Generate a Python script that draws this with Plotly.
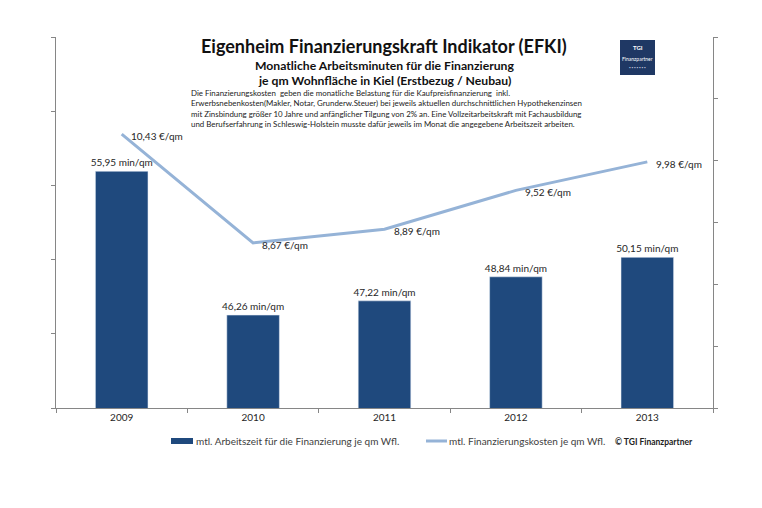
import plotly.graph_objects as go

# ---- data ----
years = ["2009", "2010", "2011", "2012", "2013"]
minutes = [55.95, 46.26, 47.22, 48.84, 50.15]          # bars (left axis)
costs = [10.43, 8.67, 8.89, 9.52, 9.98]                # line (right axis)
bar_name = "mtl. Arbeitszeit für die Finanzierung je qm Wfl."
line_name = "mtl. Finanzierungskosten je qm Wfl."
title = "Eigenheim Finanzierungskraft Indikator (EFKI)"
subtitle = ["Monatliche Arbeitsminuten für die Finanzierung",
            "je qm Wohnfläche in Kiel (Erstbezug / Neubau)"]
desc = [
    "Die Finanzierungskosten  geben die monatliche Belastung für die Kaufpreisfinanzierung  inkl.",
    "Erwerbsnebenkosten(Makler, Notar, Grunderw.Steuer) bei jeweils aktuellen durchschnittlichen Hypothekenzinsen",
    "mit Zinsbindung größer 10 Jahre und anfänglicher Tilgung von 2% an. Eine Vollzeitarbeitskraft mit Fachausbildung",
    "und Berufserfahrung in Schleswig-Holstein musste dafür jeweils im Monat die angegebene Arbeitszeit arbeiten.",
]
credit = "© TGI Finanzpartner"

# ---- geometry helpers ----
W, H = 762, 508
L, R, T, B = 56, 713, 37, 408
def px(x):
    return (x - L) / (R - L)
def py(y):
    return (B - y) / (B - T)

FONT = "Lato"
AX = "#868686"
BAR = "#1F497D"
LINE = "#95B3D7"
TXT = "#262626"

fig = go.Figure()
fig.add_trace(go.Bar(
    x=years, y=minutes, name=bar_name, marker_color=BAR, width=0.4,
    texttemplate="%{y:.2f} min/qm", textposition="outside", constraintext="none",
    textfont=dict(size=10, color=TXT, family=FONT), cliponaxis=False,
    showlegend=False,
))
fig.add_trace(go.Scatter(
    x=years, y=costs, name=line_name, yaxis="y2", mode="lines",
    line=dict(color=LINE, width=3), showlegend=False,
))

ann = []
for i, c in enumerate(costs):
    ann.append(dict(x=i, y=c, xref="x", yref="y2", showarrow=False,
                    text=f"{c:.2f}".replace(".", ",") + " €/qm",
                    xanchor="left", yanchor="middle", xshift=7, yshift=-2,
                    font=dict(size=10, color=TXT, family=FONT)))

ann.append(dict(x=px(384), y=py(46.5), xref="paper", yref="paper", showarrow=False,
                text=f"<b>{title}</b>", xanchor="center", yanchor="middle",
                font=dict(size=18, color="#111111", family=FONT)))
for i, s in enumerate(subtitle):
    ann.append(dict(x=px(384), y=py(65.5 + 15.5 * i), xref="paper", yref="paper", showarrow=False,
                    text=f"<b>{s}</b>", xanchor="center", yanchor="middle",
                    font=dict(size=12.2, color="#111111", family=FONT)))
for i, s in enumerate(desc):
    ann.append(dict(x=px(189), y=py(93 + 10.4 * i), xref="paper", yref="paper", showarrow=False,
                    text=s, xanchor="left", yanchor="middle",
                    font=dict(size=7.9, color="#222222", family=FONT)))

# ---- manual legend ----
shapes = []
LEG_Y = 441
shapes.append(dict(type="rect", xref="paper", yref="paper",
                   x0=px(171), x1=px(193), y0=py(LEG_Y + 3), y1=py(LEG_Y - 3),
                   fillcolor=BAR, line=dict(width=0)))
ann.append(dict(x=px(194), y=py(LEG_Y), xref="paper", yref="paper", showarrow=False,
                text=bar_name, xanchor="left", yanchor="middle",
                font=dict(size=10, color="#404040", family=FONT)))
shapes.append(dict(type="line", xref="paper", yref="paper",
                   x0=px(426), x1=px(447), y0=py(LEG_Y), y1=py(LEG_Y),
                   line=dict(color=LINE, width=3)))
ann.append(dict(x=px(447), y=py(LEG_Y), xref="paper", yref="paper", showarrow=False,
                text=line_name, xanchor="left", yanchor="middle",
                font=dict(size=10, color="#404040", family=FONT)))
ann.append(dict(x=px(613), y=py(LEG_Y + 1), xref="paper", yref="paper", showarrow=False,
                text=f"<b>{credit}</b>", xanchor="left", yanchor="middle",
                font=dict(size=8.5, color="#222222", family=FONT)))

# ---- logo ----
shapes.append(dict(type="rect", xref="paper", yref="paper",
                   x0=px(620), x1=px(655), y0=py(75), y1=py(40),
                   fillcolor="#1F3864", line=dict(width=0), layer="above"))
ann.append(dict(x=px(637.5), y=py(47), xref="paper", yref="paper", showarrow=False,
                text="<b>TGI</b>", xanchor="center", yanchor="middle",
                font=dict(size=6, color="white", family=FONT)))
ann.append(dict(x=px(637.5), y=py(59), xref="paper", yref="paper", showarrow=False,
                text="Finanzpartner", xanchor="center", yanchor="middle",
                font=dict(size=5, color="white", family=FONT)))
ann.append(dict(x=px(637.5), y=py(68), xref="paper", yref="paper", showarrow=False,
                text="• • • • • • •", xanchor="center", yanchor="middle",
                font=dict(size=3, color="#c8cde0", family=FONT)))

axis_common = dict(showline=True, linecolor=AX, linewidth=1, ticks="outside",
                   ticklen=4, tickcolor=AX, showgrid=False, zeroline=False)

fig.update_layout(
    width=W, height=H,
    margin=dict(l=L, r=W - R, t=T, b=H - B),
    paper_bgcolor="white", plot_bgcolor="white",
    separators=",.",
    font=dict(family=FONT, color=TXT),
    showlegend=False,
    xaxis=dict(type="category", tickson="boundaries", range=[-0.5, 4.5],
               tickfont=dict(size=10, color=TXT, family=FONT), **axis_common),
    yaxis=dict(range=[40, 65], dtick=5, showticklabels=False, **axis_common),
    yaxis2=dict(range=[6, 12], dtick=1, showticklabels=False, overlaying="y",
                side="right", **axis_common),
    annotations=ann,
    shapes=shapes,
)

fig.write_html("out.html")
